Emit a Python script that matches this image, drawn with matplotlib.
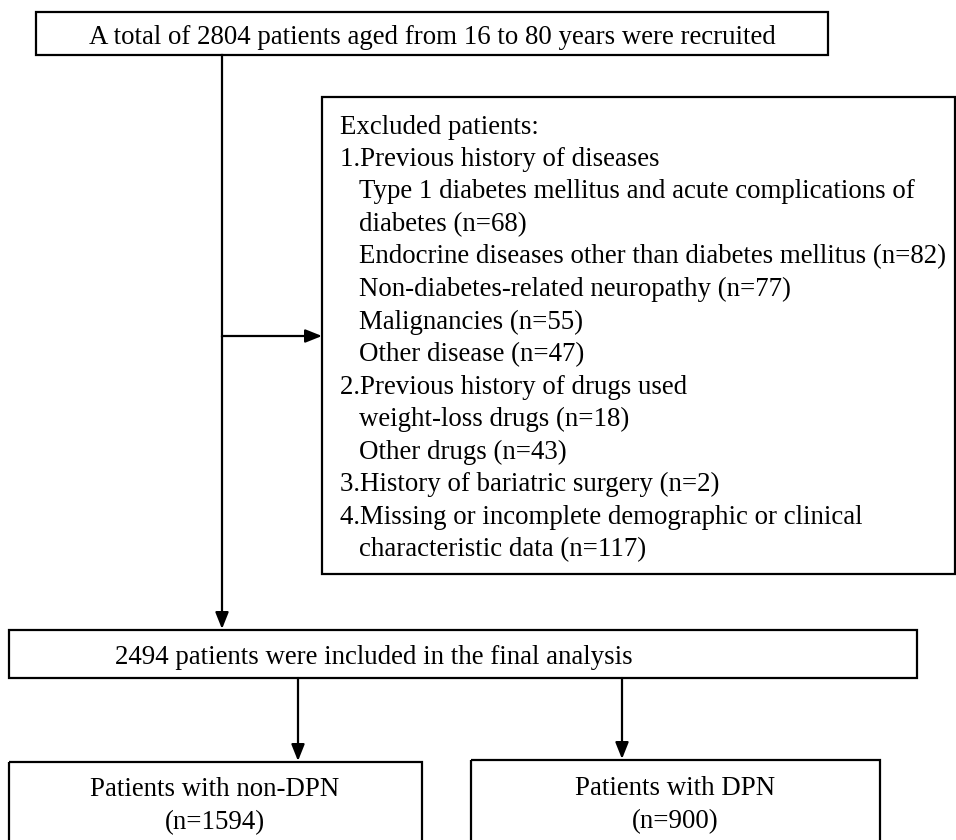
import matplotlib.pyplot as plt
from matplotlib.patches import Rectangle

plt.rcParams['font.family'] = ['Liberation Serif', 'DejaVu Serif']

# texts of the flowchart
top_text = "A total of 2804 patients aged from 16 to 80 years were recruited"
excluded_lines = [
    "Excluded patients:",
    "1.Previous history of diseases",
    "  Type 1 diabetes mellitus and acute complications of",
    "  diabetes (n=68)",
    "  Endocrine diseases other than diabetes mellitus (n=82)",
    "  Non-diabetes-related neuropathy (n=77)",
    "  Malignancies (n=55)",
    "  Other disease (n=47)",
    "2.Previous history of drugs used",
    "  weight-loss drugs (n=18)",
    "  Other drugs (n=43)",
    "3.History of bariatric surgery (n=2)",
    "4.Missing or incomplete demographic or clinical",
    "  characteristic data (n=117)",
]
included_text = "2494 patients were included in the final analysis"
group_texts = ["Patients with non-DPN\n(n=1594)", "Patients with DPN\n(n=900)"]

FS = 19.4
LW = 1.6

fig = plt.figure(figsize=(9.56, 8.4), dpi=100)
ax = fig.add_axes([0, 0, 1, 1])
ax.set_xlim(0, 956)
ax.set_ylim(840, 0)
ax.axis('off')


def box(x0, y0, x1, y1):
    ax.add_patch(Rectangle((x0, y0), x1 - x0, y1 - y0, fill=False,
                           edgecolor='black', linewidth=LW, clip_on=False))


def arrow(x0, y0, x1, y1):
    ax.annotate('', xy=(x1, y1), xytext=(x0, y0),
                arrowprops=dict(arrowstyle='-|>,head_length=1.0,head_width=0.4',
                                color='black', lw=LW, shrinkA=0, shrinkB=0))


# top box
box(36, 12, 828, 55)
ax.text(432, 37, top_text, ha='center', va='center', fontsize=FS)

# exclusion box
box(322, 97, 955, 574)
y = 127
for line in excluded_lines:
    indent = line.startswith("  ")
    ax.text(359 if indent else 340, y, line.strip(), ha='left', va='center', fontsize=FS)
    y += 32.5

# main vertical line and side arrow
ax.plot([222, 222], [55, 336], color='black', lw=LW)
arrow(222, 336, 322, 336)
arrow(222, 336, 222, 629)

# included box
box(9, 630, 917, 678)
ax.text(115, 657, included_text, ha='left', va='center', fontsize=FS)

# group boxes
arrow(298, 678, 298, 761)
arrow(622, 678, 622, 759)
box(9, 762, 422, 850)
box(471, 760, 880, 850)
ax.text(215, 806, group_texts[0], ha='center', va='center', fontsize=FS, linespacing=1.4)
ax.text(675, 805, group_texts[1], ha='center', va='center', fontsize=FS, linespacing=1.4)

fig.savefig('out.png', dpi=100)
